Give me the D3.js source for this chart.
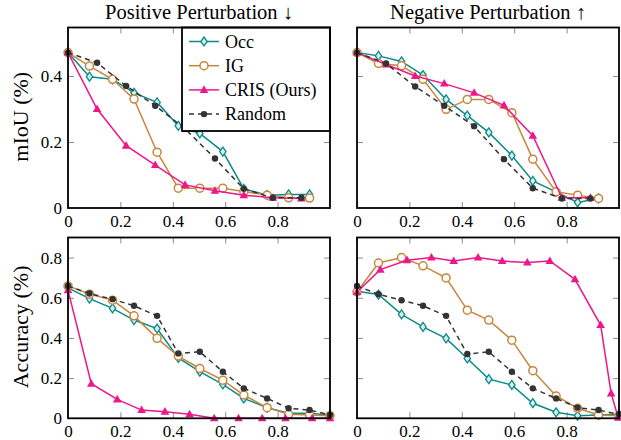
<!DOCTYPE html>
<html>
<head>
<meta charset="utf-8">
<script src="https://d3js.org/d3.v7.min.js"></script>
<style>
  body { margin: 0; background: #fff; }
  svg text { font-family: "Liberation Serif", "Times New Roman", serif; fill: #000; }
  .tick line { stroke: #8a8a8a; stroke-width: 1; }
  .domain { display: none; }
</style>
</head>
<body>
<script>

// x positions of the samples (fraction perturbed)
var xStep12 = [0, 0.082, 0.17, 0.252, 0.34, 0.421, 0.503, 0.591, 0.671, 0.76, 0.842, 0.922];
var xStep13 = [0, 0.082, 0.17, 0.252, 0.34, 0.421, 0.503, 0.591, 0.671, 0.76, 0.842, 0.922, 1.0];
var xStep9  = [0, 0.111, 0.222, 0.333, 0.447, 0.561, 0.671, 0.782, 0.891];
var xCrisAccPos = [0, 0.089, 0.188, 0.281, 0.37, 0.464, 0.558, 0.651, 0.741, 0.83, 0.932, 1.0];
var xCrisAccNeg = [0, 0.089, 0.191, 0.284, 0.369, 0.462, 0.554, 0.65, 0.736, 0.832, 0.93, 0.97, 0.997];

// mIoU, positive perturbation
var occMiouPos    = [0.471, 0.398, 0.39, 0.349, 0.32, 0.249, 0.226, 0.171, 0.058, 0.039, 0.041, 0.041];
var igMiouPos     = [0.471, 0.43, 0.39, 0.33, 0.169, 0.06, 0.06, 0.06, 0.05, 0.039, 0.031, 0.03];
var crisMiouPos   = [0.471, 0.30, 0.189, 0.13, 0.07, 0.052, 0.039, 0.031, 0.029];
var randomMiouPos = [0.471, 0.44, 0.37, 0.31, 0.24, 0.15, 0.058, 0.031, 0.031];

// mIoU, negative perturbation
var occMiouNeg    = [0.471, 0.461, 0.444, 0.403, 0.329, 0.28, 0.229, 0.159, 0.082, 0.049, 0.017, 0.029];
var igMiouNeg     = [0.471, 0.438, 0.431, 0.39, 0.299, 0.329, 0.329, 0.289, 0.148, 0.049, 0.039, 0.029];
var crisMiouNeg   = [0.471, 0.435, 0.40, 0.377, 0.349, 0.311, 0.219, 0.031, 0.031];
var randomMiouNeg = [0.471, 0.438, 0.368, 0.31, 0.248, 0.148, 0.06, 0.029, 0.029];

// accuracy, positive perturbation
var occAccPos    = [0.649, 0.596, 0.547, 0.489, 0.447, 0.301, 0.232, 0.169, 0.099, 0.053, 0.025, 0.025, 0.017];
var igAccPos     = [0.659, 0.618, 0.588, 0.51, 0.398, 0.31, 0.248, 0.19, 0.116, 0.053, 0.02, 0.017, 0.013];
var crisAccPos   = [0.638, 0.172, 0.094, 0.041, 0.033, 0.02, 0, 0, 0, 0, 0, 0];
var randomAccPos = [0.659, 0.621, 0.593, 0.56, 0.51, 0.323, 0.331, 0.232, 0.149, 0.099, 0.05, 0.041, 0.017];

// accuracy, negative perturbation
var occAccNeg    = [0.633, 0.616, 0.517, 0.455, 0.398, 0.298, 0.195, 0.166, 0.075, 0.03, 0.013, 0.017, 0.02];
var igAccNeg     = [0.629, 0.773, 0.8, 0.759, 0.699, 0.538, 0.489, 0.389, 0.237, 0.111, 0.05, 0.017, 0.013];
var crisAccNeg   = [0.629, 0.74, 0.787, 0.8, 0.783, 0.8, 0.783, 0.775, 0.783, 0.692, 0.464, 0.124, 0.003];
var randomAccNeg = [0.659, 0.618, 0.588, 0.56, 0.51, 0.32, 0.331, 0.232, 0.149, 0.099, 0.053, 0.041, 0.02];

var xTicks = [0, 0.2, 0.4, 0.6, 0.8];
var yTicksMiou = [0, 0.2, 0.4];
var yTicksAcc = [0, 0.2, 0.4, 0.6, 0.8];
var methods = ["Occ", "IG", "CRIS (Ours)", "Random"];
var colors = {"Occ": "#0b8a8a", "IG": "#c8863c", "CRIS (Ours)": "#ee168b", "Random": "#333333"};

var w = 621, h = 440;
var svg = d3.select("body").append("svg").attr("width", w).attr("height", h);

function zip(xs, ys) { return ys.map(function(v, i) { return [xs[i], v]; }); }

function marker(g, name, px, py) {
  var c = colors[name];
  if (name == "Occ") {
    g.append("path").attr("d", "M" + px + "," + (py - 4.5) + "L" + (px + 3.2) + "," + py + "L" + px + "," + (py + 4.5) + "L" + (px - 3.2) + "," + py + "Z")
      .attr("fill", "#d8ecec").attr("stroke", c).attr("stroke-width", 1.3);
  } else if (name == "IG") {
    g.append("circle").attr("cx", px).attr("cy", py).attr("r", 4)
      .attr("fill", "#fff").attr("stroke", c).attr("stroke-width", 1.5);
  } else if (name == "CRIS (Ours)") {
    g.append("path").attr("d", "M" + px + "," + (py - 4.6) + "L" + (px + 4.3) + "," + (py + 3) + "L" + (px - 4.3) + "," + (py + 3) + "Z")
      .attr("fill", c);
  } else {
    g.append("circle").attr("cx", px).attr("cy", py).attr("r", 3.2).attr("fill", c);
  }
}

function panel(x0, y0, yMax, yTicks, series, opts) {
  var pw = 262, ph = opts.ph;
  var g = svg.append("g").attr("transform", "translate(" + x0 + "," + y0 + ")");
  var x = d3.scaleLinear().domain([0, 1]).range([0, pw]);
  var y = d3.scaleLinear().domain([0, yMax]).range([ph, 0]);

  var fmt = function(d) { return d === 0 ? "0" : String(d); };
  g.append("g").attr("transform", "translate(0," + ph + ")")
    .call(d3.axisBottom(x).tickValues(xTicks).tickSize(-6).tickPadding(6.5).tickFormat(fmt));
  g.append("g").call(d3.axisTop(x).tickValues(xTicks).tickSize(-6).tickFormat(""));
  g.append("g").attr("transform", "translate(" + pw + ",0)")
    .call(d3.axisRight(y).tickValues(yTicks.slice(1)).tickSize(-6).tickFormat(""));
  var left = g.append("g").call(d3.axisLeft(y).tickValues(yTicks).tickSize(-6).tickPadding(6).tickFormat(opts.yLabels ? fmt : ""));
  left.selectAll(".tick line").filter(function(d) { return d === 0; }).remove();
  g.selectAll(".tick text").style("font-family", "'Liberation Serif', serif").style("font-size", "17px").attr("fill", "#000");

  var line = d3.line().x(function(d) { return x(d[0]); }).y(function(d) { return y(d[1]); });
  series.forEach(function(s) {
    var pts = zip(s.x, s.y);
    g.append("path").datum(pts).attr("d", line).attr("fill", "none")
      .attr("stroke", colors[s.name]).attr("stroke-width", 1.5)
      .attr("stroke-dasharray", s.name == "Random" ? "5,4" : null);
    var mg = g.append("g");
    pts.forEach(function(p) { marker(mg, s.name, x(p[0]), y(p[1])); });
  });

  if (opts.legend) {
    var lg = g.append("g").attr("transform", "translate(" + (pw - 148) + ",0)");
    lg.append("rect").attr("width", 148).attr("height", 103.5).attr("fill", "#fff")
      .attr("stroke", "#000").attr("stroke-width", 1.8);
    methods.forEach(function(m, i) {
      var ly = 14 + i * 24.2;
      lg.append("line").attr("x1", 7).attr("x2", 37).attr("y1", ly).attr("y2", ly)
        .attr("stroke", colors[m]).attr("stroke-width", 1.5)
        .attr("stroke-dasharray", m == "Random" ? "5,4" : null);
      marker(lg, m, 22, ly);
      lg.append("text").attr("x", 43).attr("y", ly + 6).style("font-size", "18px").text(m);
    });
  }

  g.append("rect").attr("width", pw).attr("height", ph).attr("fill", "none")
    .attr("stroke", "#000").attr("stroke-width", 1.8);

  if (opts.title) {
    svg.append("text").attr("x", x0 + pw / 2).attr("y", 18.5).attr("text-anchor", "middle")
      .style("font-size", "20.5px").text(opts.title);
  }
  if (opts.ylabel) {
    svg.append("text").attr("transform", "translate(28," + (y0 + ph / 2 - 1) + ") rotate(-90)")
      .attr("text-anchor", "middle").style("font-size", "22px").text(opts.ylabel);
  }
}

panel(68, 27.5, 0.547, yTicksMiou, [
  {name: "Occ", x: xStep12, y: occMiouPos},
  {name: "IG", x: xStep12, y: igMiouPos},
  {name: "CRIS (Ours)", x: xStep9, y: crisMiouPos},
  {name: "Random", x: xStep9, y: randomMiouPos}
], {ph: 180.5, yLabels: true, legend: true, title: "Positive Perturbation \u2193", ylabel: "mIoU (%)"});

panel(357, 27.5, 0.547, yTicksMiou, [
  {name: "Occ", x: xStep12, y: occMiouNeg},
  {name: "IG", x: xStep12, y: igMiouNeg},
  {name: "CRIS (Ours)", x: xStep9, y: crisMiouNeg},
  {name: "Random", x: xStep9, y: randomMiouNeg}
], {ph: 180.5, yLabels: false, title: "Negative Perturbation \u2191"});

panel(68, 237.5, 0.9, yTicksAcc, [
  {name: "Occ", x: xStep13, y: occAccPos},
  {name: "IG", x: xStep13, y: igAccPos},
  {name: "CRIS (Ours)", x: xCrisAccPos, y: crisAccPos},
  {name: "Random", x: xStep13, y: randomAccPos}
], {ph: 180.8, yLabels: true, ylabel: "Accuracy (%)"});

panel(357, 237.5, 0.9, yTicksAcc, [
  {name: "Occ", x: xStep13, y: occAccNeg},
  {name: "IG", x: xStep13, y: igAccNeg},
  {name: "CRIS (Ours)", x: xCrisAccNeg, y: crisAccNeg},
  {name: "Random", x: xStep13, y: randomAccNeg}
], {ph: 180.8, yLabels: false});

</script>
</body>
</html>
